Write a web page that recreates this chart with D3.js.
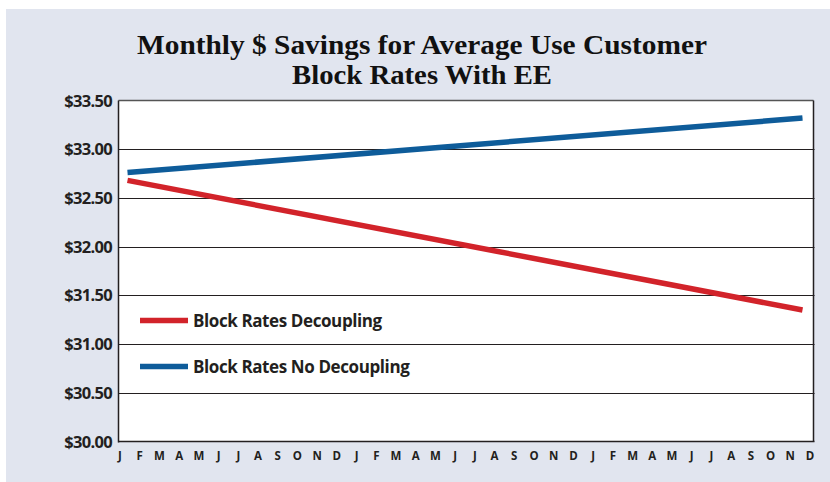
<!DOCTYPE html>
<html><head><meta charset="utf-8">
<script src="https://cdn.jsdelivr.net/npm/d3@7"></script>
<style>body{margin:0;background:#fff}svg{display:block}</style>
</head><body>
<svg id="c" width="830" height="482"></svg>
<script>
const months = ["J","F","M","A","M","J","J","A","S","O","N","D","J","F","M","A","M","J","J","A","S","O","N","D","J","F","M","A","M","J","J","A","S","O","N","D"];
const yTicks = [30.0, 30.5, 31.0, 31.5, 32.0, 32.5, 33.0, 33.5];
const seriesNames = ["Block Rates Decoupling", "Block Rates No Decoupling"];
const decoupling = [[0, 32.68], [35, 31.35]];
const noDecoupling = [[0, 32.76], [35, 33.32]];
const colors = ["#d2232a", "#0e5c9a"];

const svg = d3.select("#c");
svg.append("rect").attr("x",6).attr("y",9).attr("width",824).attr("height",473).attr("fill","#e1e5ef");

const L=118.5, R=813.5, T=100.5, B=441.5;
const y = d3.scaleLinear().domain([30,33.5]).range([B,T]);
const xl = d3.scalePoint().domain(d3.range(36)).range([120,810]);
const x = d3.scaleLinear().domain([0,35]).range([127.5,802.5]);

svg.append("rect").attr("x",L).attr("y",T).attr("width",R-L).attr("height",B-T).attr("fill","#fff");

// grid
svg.append("g").selectAll("line").data(yTicks.slice(1,-1)).join("line")
  .attr("x1",L).attr("x2",R+1).attr("y1",d=>Math.round(y(d))+0.5).attr("y2",d=>Math.round(y(d))+0.5)
  .attr("stroke","#231f20").attr("stroke-width",1.2);
// frame
svg.append("line").attr("x1",L).attr("x2",R).attr("y1",T).attr("y2",T).attr("stroke","#555").attr("stroke-width",1.5);
svg.append("line").attr("x1",R).attr("x2",R).attr("y1",T).attr("y2",B).attr("stroke","#231f20").attr("stroke-width",1.5);
svg.append("line").attr("x1",L).attr("x2",L).attr("y1",T).attr("y2",B+1).attr("stroke","#231f20").attr("stroke-width",1.5);
svg.append("line").attr("x1",L).attr("x2",R+1).attr("y1",B).attr("y2",B).attr("stroke","#231f20").attr("stroke-width",1.5);

// y labels
svg.append("g").selectAll("text").data(yTicks).join("text")
  .attr("x",112).attr("y",d=>y(d)+6).attr("text-anchor","end")
  .attr("font-family","Open Sans, sans-serif").attr("font-weight",700).attr("font-size",16.5)
  .attr("fill","#231f20").style("letter-spacing","-0.7px")
  .text(d=>"$"+d.toFixed(2));

// x labels
svg.append("g").selectAll("text").data(months).join("text")
  .attr("x",(d,i)=>xl(i)).attr("y",460).attr("text-anchor","middle")
  .attr("font-family","Open Sans, sans-serif").attr("font-weight",700).attr("font-size",11.5)
  .attr("fill","#231f20").text(d=>d);

// lines
const line = d3.line().x(d=>x(d[0])).y(d=>y(d[1]));
[decoupling, noDecoupling].forEach((s,i)=>{
  svg.append("path").attr("d",line(s)).attr("fill","none").attr("stroke",colors[i]).attr("stroke-width",5.5);
});

// legend
const ly = [320.5, 366.5];
seriesNames.forEach((n,i)=>{
  svg.append("line").attr("x1",140).attr("x2",188).attr("y1",ly[i]).attr("y2",ly[i]).attr("stroke",colors[i]).attr("stroke-width",5.5);
  svg.append("text").attr("x",193).attr("y",ly[i]+6.5).attr("font-family","Open Sans, sans-serif").attr("font-weight",700)
    .attr("font-size",17).attr("fill","#231f20").style("letter-spacing","-0.4px").text(n);
});

// title
const title = ["Monthly $ Savings for Average Use Customer","Block Rates With EE"];
const tw = [570, 260];
title.forEach((t,i)=>{
  svg.append("text").attr("x",422).attr("y",54+i*29.5).attr("text-anchor","middle")
    .attr("font-family","Liberation Serif, serif").attr("font-weight",700).attr("font-size",26.5)
    .attr("fill","#111").attr("textLength",tw[i]).attr("lengthAdjust","spacingAndGlyphs").text(t);
});
</script>
</body></html>
